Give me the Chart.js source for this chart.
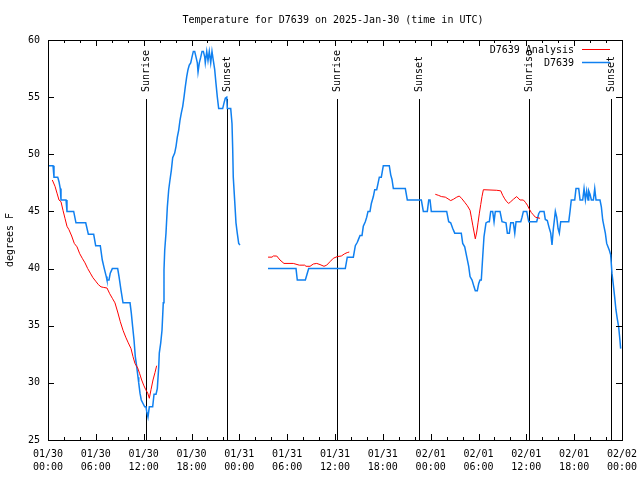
<!DOCTYPE html>
<html>
<head>
<meta charset="utf-8">
<script src="https://cdn.jsdelivr.net/npm/chart.js@4/dist/chart.umd.min.js"></script>
<style>
  html, body { margin: 0; padding: 0; background: #fff; }
  #wrap { width: 640px; height: 480px; }
</style>
</head>
<body>
<div id="wrap"><canvas id="c" width="640" height="480"></canvas></div>
<script>
// ---- data (hours since 2025-01-30 00:00 UTC, degrees F) ----
const titleText = 'Temperature for D7639 on 2025-Jan-30 (time in UTC)';
const yAxisTitle = 'degrees F';
const seriesNames = ['D7639 Analysis', 'D7639'];

const xTickLabels = [
  ['01/30', '00:00'], ['01/30', '06:00'], ['01/30', '12:00'], ['01/30', '18:00'],
  ['01/31', '00:00'], ['01/31', '06:00'], ['01/31', '12:00'], ['01/31', '18:00'],
  ['02/01', '00:00'], ['02/01', '06:00'], ['02/01', '12:00'], ['02/01', '18:00'],
  ['02/02', '00:00']
];

const sunriseHours = [12.33, 36.29, 60.37];
const sunsetHours = [22.49, 46.58, 70.66];

const blueHours = [
  0.04, 0.63, 0.75, 1.22, 1.38, 1.54, 1.63, 2.26, 2.38, 3.22, 3.51, 4.73, 5.06, 5.73, 5.98, 6.56,
  6.81, 7.06, 7.31, 7.40, 7.65, 7.81, 8.07, 8.74, 8.91, 9.16, 9.41, 10.29, 10.45, 10.62, 10.79, 10.95,
  11.13, 11.29, 11.38, 11.54, 11.70, 11.95, 12.13, 12.29, 12.38, 12.54, 12.71, 13.13, 13.30, 13.55,
  13.71, 13.89, 13.96, 14.14, 14.30, 14.46, 14.55, 14.64, 14.80, 14.97, 15.14, 15.30, 15.47, 15.64,
  15.89, 16.06, 16.22, 16.39, 16.56, 16.72, 16.90, 17.06, 17.22, 17.40, 17.56, 17.72, 17.90, 18.06,
  18.23, 18.40, 18.57, 18.73, 18.82, 18.98, 19.16, 19.32, 19.49, 19.66, 19.73, 19.91, 20.07, 20.23,
  20.41, 20.57, 20.74, 20.91, 21.07, 21.24, 21.41, 21.91, 22.08, 22.24, 22.42, 22.49, 22.92, 23.08,
  23.17, 23.24, 23.42, 23.58, 23.74, 23.92, 24.08,
  25.80,
  27.60, 31.11, 31.27, 32.28, 32.49, 32.70, 37.29, 37.54, 38.30, 38.55, 38.80, 38.97, 39.14, 39.39,
  39.55, 39.80, 39.98, 40.14, 40.39, 40.56, 40.81, 40.98, 41.23, 41.40, 41.56, 41.81, 42.06, 42.81,
  42.99, 43.15, 43.32, 44.82, 45.07, 46.83, 47.08, 47.58, 47.76, 47.92, 48.08, 50.01, 50.26, 50.51,
  50.77, 51.02, 51.84, 52.02, 52.27, 52.52, 52.77, 52.94, 53.19, 53.44, 53.60, 53.85, 54.03, 54.19,
  54.35, 54.53, 54.69, 54.94, 55.19, 55.36, 55.53, 55.78, 55.95, 56.11, 56.70, 56.95, 57.45, 57.62,
  57.87, 58.04, 58.37, 58.55, 58.71, 59.30, 59.46, 59.63, 60.05, 60.30, 61.30, 61.55, 61.72, 62.22,
  62.38, 62.63, 62.89, 63.06, 63.22, 63.39, 63.56, 63.64, 63.81, 63.98, 64.14, 64.31, 65.32, 65.48,
  65.64, 66.07, 66.23, 66.57, 66.74, 67.07, 67.24, 67.41, 67.57, 67.74, 67.83, 67.99, 68.16, 68.41,
  68.58, 68.74, 69.24, 69.41, 69.58, 69.74, 69.91, 70.08, 70.24, 70.41, 70.58, 70.74, 70.91, 71.08,
  71.24, 71.41, 71.58, 71.74, 71.83
];
const blueTemps = [
  49, 49, 48, 48, 47.6, 47, 46, 46, 45, 45, 44, 44, 43, 43, 42, 42,
  40.75, 40, 39.3, 39, 39, 39.6, 40, 40, 39.3, 38.1, 37, 37, 36.1, 34.9, 33.75, 32.3,
  31.4, 30.5, 30.0, 29.1, 28.5, 28.15, 27.9, 27.9, 27.5, 27.0, 27.9, 27.9, 29.0, 29.0,
  29.5, 31.4, 32.6, 33.5, 34.6, 37.0, 39.9, 41.6, 43.1, 45.4, 46.9, 47.75, 48.6, 49.7,
  50.1, 50.7, 51.5, 52.1, 53.0, 53.6, 54.2, 55.0, 55.9, 56.8, 57.4, 57.8, 58.0, 58.5,
  59, 59, 58.5, 58, 57.2, 58, 58.5, 59, 59, 58.5, 58, 59, 58.2, 59,
  58, 59, 58.2, 57.4, 56.2, 55.0, 54.0, 54.0, 54.5, 54.9, 55, 54, 54, 52.7,
  50.4, 48, 45.9, 44, 43.1, 42.2, 42.06,
  null,
  40, 40, 39, 39, 39.5, 40, 40, 41, 41, 42, 42.3, 42.6, 42.9, 42.9,
  43.7, 44.1, 44.5, 45, 45, 45.7, 46.3, 46.9, 46.9, 47.45, 48, 48, 49, 49,
  48.2, 47.8, 47, 47, 46, 46, 45, 45, 46, 46, 45, 45, 44.1, 44,
  43.5, 43.1, 43.1, 42.2, 41.9, 41.05, 40.2, 39.3, 39, 38.4, 38.06, 38.06, 38.7, 39,
  39, 41.05, 42.8, 44, 44.1, 44.1, 45, 45, 44.1, 45, 45, 44.1, 44, 43.1,
  43.1, 44, 44, 43.1, 44.1, 44.1, 44.5, 45, 45, 44.1, 44.1, 44.8, 45, 45,
  44.3, 44.2, 43.5, 43.1, 42.06, 43.5, 44.5, 45, 44.5, 43.5, 43.1, 44.1, 44.1, 45,
  46, 46, 47, 47, 46, 46, 47, 46, 46.8, 46, 46.8, 46.5, 46, 46,
  47, 46, 46, 45.4, 44.25, 43.7, 43.1, 42.2, 41.9, 41.6, 41.2, 39.6, 38.6, 37.5,
  36.4, 35.6, 34.9, 33.75, 33.0
];

const redHours = [
  0.54, 0.88, 1.13, 1.38, 1.63, 1.88, 2.13, 2.38, 2.63, 2.97, 3.30, 3.64, 3.98, 4.30, 4.64, 4.98,
  5.31, 5.64, 5.98, 6.31, 6.65, 6.99, 7.40, 7.74, 8.07, 8.40, 8.74, 9.07, 9.41, 9.75, 10.07, 10.41,
  10.66, 10.91, 11.25, 11.50, 11.75, 12.00, 12.26, 12.51, 12.71, 12.92, 13.17, 13.42, 13.63,
  20.00,
  27.60, 28.10, 28.26, 28.69, 29.10, 29.60, 30.77, 31.52, 32.20, 32.36, 32.87, 33.28, 33.71, 34.12,
  34.62, 34.96, 35.37, 35.79, 36.29, 36.79, 37.22, 37.54, 37.79,
  42.00,
  48.58, 49.01, 49.34, 49.84, 50.18, 50.51, 50.84, 51.27, 51.59, 51.93, 52.27, 52.60, 52.94, 53.10,
  53.28, 53.44, 53.60, 53.78, 53.94, 54.11, 54.28, 54.44, 54.61, 56.29, 56.79, 57.04, 57.29, 57.54,
  57.79, 58.04, 58.37, 58.79, 59.21, 59.63, 59.88, 60.13, 60.38, 60.63, 60.88, 61.13, 61.38, 61.72
];
const redTemps = [
  47.75, 47.2, 46.6, 46.0, 45.85, 45.1, 44.4, 43.7, 43.4, 42.85, 42.2, 41.9, 41.3, 40.9, 40.5, 40.0,
  39.6, 39.2, 38.9, 38.6, 38.4, 38.35, 38.3, 37.8, 37.4, 37.0, 36.2, 35.35, 34.6, 34.0, 33.5, 33.0,
  32.3, 31.7, 31.3, 30.8, 30.25, 29.8, 29.4, 29.1, 28.65, 29.4, 30.25, 30.9, 31.5,
  null,
  41.0, 41.0, 41.1, 41.1, 40.75, 40.45, 40.45, 40.3, 40.3, 40.2, 40.2, 40.4, 40.45, 40.35,
  40.2, 40.3, 40.6, 40.9, 41.05, 41.1, 41.3, 41.4, 41.45,
  null,
  46.5, 46.4, 46.3, 46.25, 46.1, 45.95, 46.06, 46.25, 46.35, 46.1, 45.8, 45.5, 45.1, 44.5,
  43.8, 43.2, 42.6, 43.2, 44.0, 44.85, 45.6, 46.3, 46.9, 46.85, 46.8, 46.4, 46.1, 45.85,
  45.7, 45.85, 46.06, 46.3, 46.0, 46.0, 45.8, 45.55, 45.2, 44.9, 44.7, 44.5, 44.45, 44.4
];

// ---- build ----
const FONT = '"DejaVu Sans Mono", "Liberation Mono", monospace';
const RED = '#ff0000';
const BLUE = '#1080f0';
const toPts = (xs, ys) => xs.map((x, i) => ({ x: x, y: ys[i] }));

const decor = {
  id: 'decor',
  beforeDatasetsDraw(chart) {
    const { ctx, chartArea: a, scales } = chart;
    const xs = scales.x;
    ctx.save();
    ctx.strokeStyle = '#000';
    ctx.lineWidth = 1;
    ctx.fillStyle = '#000';
    ctx.font = '10px ' + FONT;
    const lineTop = a.top + 59;
    const drawSun = (h, label) => {
      const px = Math.round(xs.getPixelForValue(h)) + 0.5;
      ctx.beginPath();
      ctx.moveTo(px, lineTop);
      ctx.lineTo(px, a.bottom);
      ctx.stroke();
      ctx.save();
      ctx.translate(px, lineTop - 7);
      ctx.rotate(-Math.PI / 2);
      ctx.textAlign = 'left';
      ctx.textBaseline = 'middle';
      ctx.fillText(label, 0, 0);
      ctx.restore();
    };
    sunriseHours.forEach(h => drawSun(h, 'Sunrise'));
    sunsetHours.forEach(h => drawSun(h, 'Sunset'));
    ctx.restore();
  },
  afterDatasetsDraw(chart) {
    const { ctx, chartArea: a, scales } = chart;
    const xs = scales.x, ys = scales.y;
    ctx.save();
    ctx.strokeStyle = '#000';
    ctx.lineWidth = 1;
    // frame
    ctx.strokeRect(Math.round(a.left) + 0.5, Math.round(a.top) + 0.5,
      Math.round(a.right - a.left), Math.round(a.bottom - a.top));
    // x ticks (inward, bottom and top)
    ctx.beginPath();
    xs.ticks.forEach(t => {
      const px = Math.round(xs.getPixelForValue(t.value)) + 0.5;
      const len = (t.value % 6 === 0) ? 6 : 3;
      ctx.moveTo(px, a.bottom); ctx.lineTo(px, a.bottom - len);
      ctx.moveTo(px, a.top); ctx.lineTo(px, a.top + len);
    });
    // y ticks (inward, left and right)
    ys.ticks.forEach(t => {
      const py = Math.round(ys.getPixelForValue(t.value)) + 0.5;
      ctx.moveTo(a.left, py); ctx.lineTo(a.left + 6, py);
      ctx.moveTo(a.right, py); ctx.lineTo(a.right - 6, py);
    });
    ctx.stroke();
    // title
    ctx.fillStyle = '#000';
    ctx.font = '10px ' + FONT;
    ctx.textAlign = 'center';
    ctx.textBaseline = 'middle';
    ctx.fillText(titleText, (a.left + a.right) / 2 - 2, 20);
    // legend (gnuplot style: text right-aligned, sample line to the right)
    const colors = [RED, BLUE];
    ctx.textAlign = 'right';
    seriesNames.forEach((name, i) => {
      const ly = a.top + 10 + i * 13;
      ctx.fillStyle = '#000';
      ctx.fillText(name, a.right - 48, ly);
      ctx.strokeStyle = colors[i];
      ctx.lineWidth = i === 1 ? 1.5 : 1;
      ctx.beginPath();
      ctx.moveTo(a.right - 40, Math.round(ly) - 0.5);
      ctx.lineTo(a.right - 12, Math.round(ly) - 0.5);
      ctx.stroke();
    });
    ctx.restore();
  }
};

new Chart(document.getElementById('c'), {
  type: 'line',
  data: {
    datasets: [
      {
        label: seriesNames[0],
        data: toPts(redHours, redTemps),
        borderColor: RED,
        borderWidth: 1,
        pointRadius: 0,
        tension: 0,
        spanGaps: false,
        fill: false
      },
      {
        label: seriesNames[1],
        data: toPts(blueHours, blueTemps),
        borderColor: BLUE,
        borderWidth: 1.5,
        pointRadius: 0,
        tension: 0,
        spanGaps: false,
        fill: false
      }
    ]
  },
  options: {
    responsive: false,
    animation: false,
    devicePixelRatio: 1,
    layout: { padding: { left: 0, right: 18, top: 40, bottom: 0 } },
    plugins: {
      legend: { display: false },
      title: { display: false },
      tooltip: { enabled: false }
    },
    scales: {
      x: {
        type: 'linear',
        min: 0,
        max: 72,
        grid: { display: false, drawTicks: false },
        border: { display: false },
        afterFit(scale) {
          scale.height = 40;
          scale.paddingLeft = 0;
          scale.paddingRight = 0;
        },
        ticks: {
          stepSize: 2,
          autoSkip: false,
          maxRotation: 0,
          minRotation: 0,
          padding: 8,
          color: '#000',
          font: { family: FONT, size: 10, lineHeight: 1.3 },
          callback: (v) => (v % 6 === 0 ? xTickLabels[v / 6] : '')
        }
      },
      y: {
        min: 25,
        max: 60,
        grid: { display: false, drawTicks: false },
        border: { display: false },
        afterFit(scale) {
          scale.width = 48;
          scale.paddingTop = 0;
          scale.paddingBottom = 0;
        },
        title: {
          display: true,
          text: yAxisTitle,
          color: '#000',
          font: { family: FONT, size: 10 },
          padding: { top: 4, bottom: 0 }
        },
        ticks: {
          stepSize: 5,
          padding: 8,
          color: '#000',
          font: { family: FONT, size: 10 }
        }
      }
    }
  },
  plugins: [decor]
});
</script>
</body>
</html>
